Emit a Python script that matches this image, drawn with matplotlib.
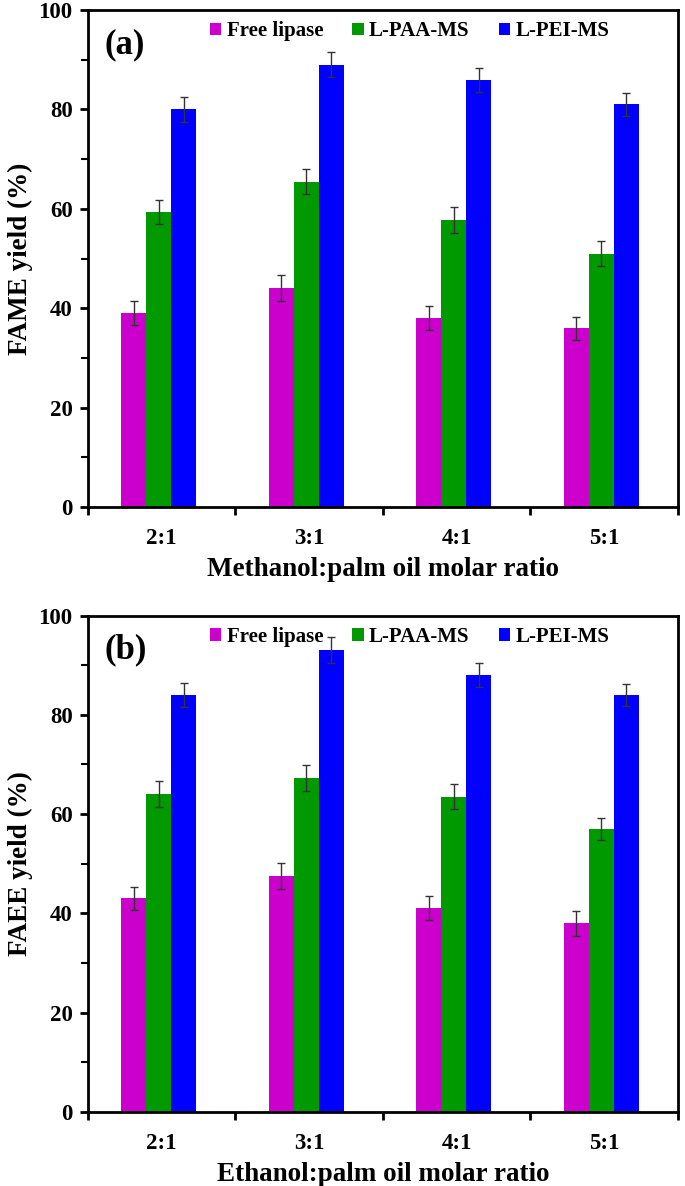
import numpy as np
import matplotlib.pyplot as plt
from matplotlib.ticker import MultipleLocator, FixedLocator

plt.rcParams['font.family'] = ['Liberation Serif', 'DejaVu Serif']
plt.rcParams['font.weight'] = 'bold'

ratios = ['2:1', '3:1', '4:1', '5:1']
series = ['Free lipase', 'L-PAA-MS', 'L-PEI-MS']
colors = ['#CC00CC', '#009900', '#0000FF']

# panel (a) methanol
fame_free = [39, 44, 38, 36]
fame_paa = [59.3, 65.5, 57.8, 51]
fame_pei = [80, 89, 86, 81]
fame_err_free = [2.4, 2.6, 2.4, 2.3]
fame_err_paa = [2.4, 2.5, 2.6, 2.6]
fame_err_pei = [2.6, 2.5, 2.4, 2.3]

# panel (b) ethanol
faee_free = [43, 47.5, 41, 38]
faee_paa = [64, 67.3, 63.5, 57]
faee_pei = [84, 93, 88, 84]
faee_err_free = [2.4, 2.6, 2.4, 2.5]
faee_err_paa = [2.6, 2.6, 2.5, 2.3]
faee_err_pei = [2.4, 2.6, 2.4, 2.3]

panels = [
    ('(a)', 'FAME yield (%)', 'Methanol:palm oil molar ratio',
     [fame_free, fame_paa, fame_pei], [fame_err_free, fame_err_paa, fame_err_pei]),
    ('(b)', 'FAEE yield (%)', 'Ethanol:palm oil molar ratio',
     [faee_free, faee_paa, faee_pei], [faee_err_free, faee_err_paa, faee_err_pei]),
]

fig = plt.figure(figsize=(6.85, 11.86), dpi=100)
axes_pos = [[0.1285, 0.5725, 0.861, 0.419], [0.1285, 0.0625, 0.861, 0.4185]]

x = np.arange(len(ratios))
w = 0.17
for pos, (tag, ylab, xlab, vals, errs) in zip(axes_pos, panels):
    ax = fig.add_axes(pos)
    for i in range(3):
        ax.bar(x + (i - 1) * w - 0.02, vals[i], w, color=colors[i], label=series[i],
               yerr=errs[i], error_kw=dict(ecolor='#333333', elinewidth=1, capsize=3, capthick=1))
    ax.set_xlim(-0.5, 3.5)
    ax.set_ylim(0, 100)
    ax.set_xticks(x)
    ax.set_xticklabels(ratios)
    ax.xaxis.set_minor_locator(FixedLocator(np.arange(-0.5, 4, 1)))
    ax.tick_params(axis='x', which='major', length=0, pad=15, labelsize=16.5)
    ax.tick_params(axis='x', which='minor', length=6, width=2, direction='out')
    ax.yaxis.set_major_locator(MultipleLocator(20))
    ax.yaxis.set_minor_locator(MultipleLocator(10))
    ax.tick_params(axis='y', which='major', length=6, width=2, labelsize=16.5, pad=5)
    ax.tick_params(axis='y', which='minor', length=5, width=1.5)
    for s in ax.spines.values():
        s.set_linewidth(2)
    ax.set_ylabel(ylab, fontsize=19.5, fontweight='bold', labelpad=4)
    ax.set_xlabel(xlab, fontsize=19.5, fontweight='bold', labelpad=6)
    ax.text(0.028, 0.93, tag, transform=ax.transAxes, fontsize=25, fontweight='bold', va='center')
    ax.legend(loc='upper center', bbox_to_anchor=(0.545, 1.015), ncol=3, frameon=False,
              fontsize=15, handlelength=0.55, handleheight=0.55, handletextpad=0.25,
              columnspacing=1.4)

fig.savefig('out.png', dpi=100)
